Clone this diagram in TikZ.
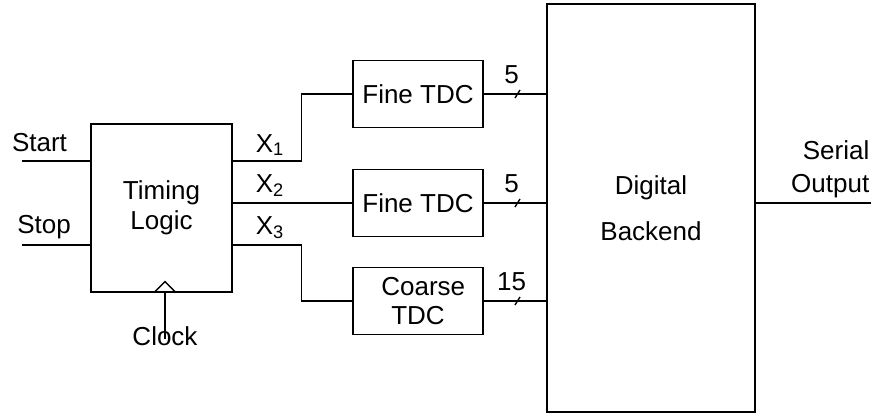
\documentclass[tikz,border=0pt]{standalone}
\usepackage{fontspec}
\setmainfont{Liberation Sans}
\usetikzlibrary{positioning}

\begin{document}
\begin{tikzpicture}[
      x=0.02cm, y=-0.02cm,
      line width=0.8pt,
      font=\fontsize{14.8}{17}\selectfont,
      block/.style={
          rectangle, draw, align=center,
          inner sep=0pt
        },
      tdc/.style={block, minimum width=2.6cm, minimum height=1.34cm},
      sig/.style={inner sep=0pt},
    ]
    \useasboundingbox (0,0) rectangle (876,415);

    % blocks
    \node[block, minimum width=2.82cm, minimum height=3.36cm] (timing) at (161.5,208) {Timing\\Logic};
    \node[tdc] (fine1) at (418,94) {Fine TDC};
    \node[tdc] (fine2) at (418,203) {Fine TDC};
    \node[tdc] (coarse) at (418,301) {\hspace{6pt}Coarse\\TDC};
    \node[block, minimum width=4.16cm, minimum height=8.16cm] (backend) at (651,208) {Digital\\[9.5pt]Backend};

    % inputs
    \coordinate (start) at (22,161);
    \coordinate (stop) at (22,245);
    \draw (start) -- (start -| timing.west);
    \draw (stop) -- (stop -| timing.west);
    \node[sig] (startlbl) at (39.5,143) {Start};
    \node[sig] (stoplbl) at (44,227) {Stop};

    % clock
    \node[sig] (clock) at (165,336.5) {Clock};
    \coordinate (clkin) at (timing.south -| clock);
    \draw (clkin) -- ++(0,46);
    \draw ([shift={(-11,0)}]clkin) -- ++(11,-11) -- ++(11,11);

    % timing outputs
    \draw (timing.east |- start) -- ++(69,0) |- (fine1.west);
    \draw (timing.east |- fine2.west) -- (fine2.west);
    \draw (timing.east |- stop) -- ++(69,0) |- (coarse.west);
    \node[sig] (x1) at (270,145) {X\textsubscript{1}};
    \node[sig] (x2) at (270,186) {X\textsubscript{2}};
    \node[sig] (x3) at (270,228) {X\textsubscript{3}};

    % buses into the backend
    \foreach \blk/\bits in {fine1/5, fine2/5, coarse/15}{
        \draw (\blk.east) -- coordinate[pos=0.54] (\blk-bus) (\blk.east -| backend.west);
        \draw ([shift={(-2.5,4)}]\blk-bus) -- ++(5,-8);
        \node[sig] at ([shift={(-6,-19)}]\blk-bus) {\bits};
      }

    % serial output
    \coordinate (serial) at (871,203);
    \draw (backend.east |- serial) -- (serial);
    \node[sig, align=right, anchor=east, font=\fontsize{14.8}{19}\selectfont] (serlbl) at (870,169) {Serial\\Output};
  \end{tikzpicture}
\end{document}
